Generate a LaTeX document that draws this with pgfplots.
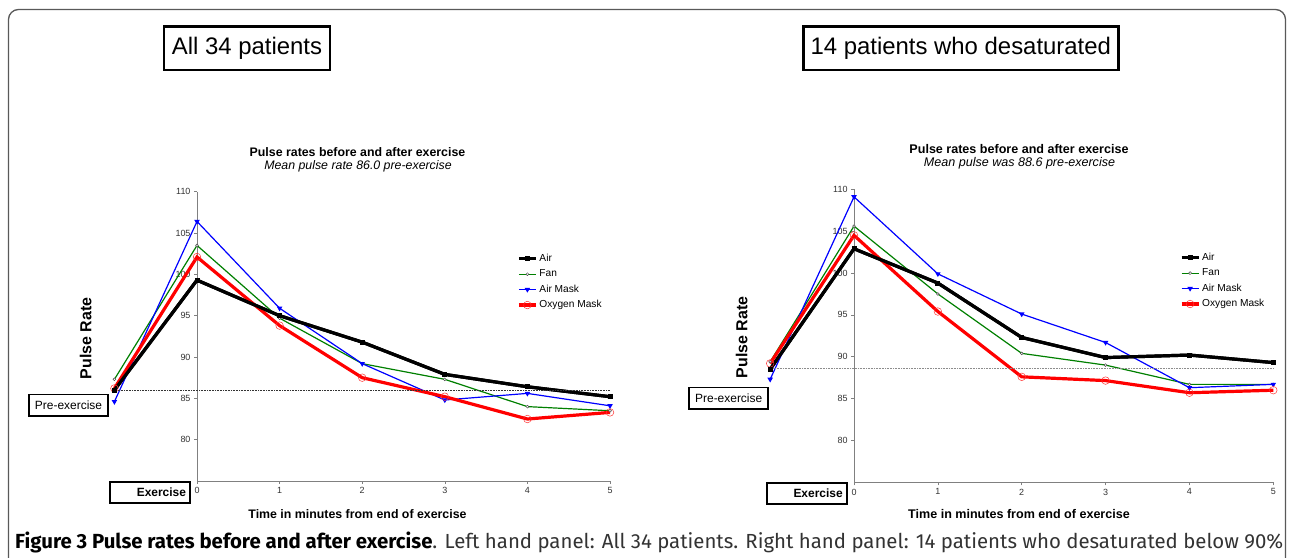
\documentclass[border=0pt]{standalone}
\usepackage{pgfplots}
\usepackage{pgfplotstable}
\pgfplotsset{compat=1.18}
\usepackage{fontspec}
\setmainfont{Liberation Sans}
\newfontfamily\capfont{Fira Sans}
\definecolor{fangreen}{RGB}{0,128,0}
\definecolor{axgray}{RGB}{128,128,128}

\pgfplotstableread{
x    air   fan   mask  oxy
-1   86.0  87.3  84.6  86.2
0    99.3  103.5 106.4 102.1
1    95.0  94.7  95.9  93.8
2    91.8  89.2  89.2  87.5
3    87.9  87.3  84.8  85.2
4    86.4  84.0  85.6  82.5
5    85.2  83.5  84.1  83.3
}\leftdata
\pgfplotstableread{
x    air   fan   mask  oxy
-1   88.5  89.4  87.3  89.2
0    102.9 105.6 109.1 104.5
1    98.8  97.5  99.9  95.4
2    92.3  90.4  95.1  87.6
3    89.9  89.0  91.7  87.15
4    90.2  86.7  86.3  85.7
5    89.3  86.7  86.7  86.0
}\rightdata

\pgfplotsset{
  panel/.style={
    scale only axis,
    xmin=0, xmax=5, ymin=75, ymax=110,
    axis x line*=bottom, axis y line*=left,
    axis line style={axgray, line width=0.9bp, -},
    xtick={0,...,5}, ytick={80,85,...,110},
    tick align=outside, major tick length=3bp,
    tick style={axgray, line width=0.6bp},
    ticklabel style={font=\fontsize{9}{10}\selectfont, text=black!80},
    /pgf/number format/assume math mode=true,
    clip=false,
    legend style={draw=none, fill=none, font=\fontsize{10.2}{11}\selectfont,
      row sep=2.7bp, inner sep=0pt, cells={anchor=west}},
    legend cell align=left,
  },
  airst/.style={black, line width=3.2bp, mark=square*, mark size=0.9bp, mark options={solid}},
  fanst/.style={fangreen, line width=1.2bp, mark=*, mark size=1.4bp, mark options={fill=white, draw=black!70, line width=0.5bp}},
  maskst/.style={blue, line width=1.2bp, mark=triangle*, mark size=2bp, mark options={rotate=180}},
  oxyst/.style={red, line width=3.2bp, mark=o, mark size=3.8bp, mark options={line width=0.5bp, fill=none, draw=red!80}},
}

\begin{document}
\begin{tikzpicture}
\useasboundingbox (0,0) rectangle (1292bp,-558bp);
\clip (0,0) rectangle (1292bp,-558bp);
\fill[white] (0,0) rectangle (1292bp,-558bp);
\draw[black!65, line width=1.3bp, rounded corners=10bp] (8.5bp,-620bp) -- (8.5bp,-9.5bp) -- (1285.5bp,-9.5bp) -- (1285.5bp,-620bp);

% Left panel
\begin{axis}[panel, at={(197bp,-481bp)}, anchor=south west, width=413bp, height=289.3bp,
  legend style={at={(0.775,0.791)}, anchor=north west}]
\addplot[airst] table[x=x,y=air] {\leftdata};
\addlegendentry{Air}
\addplot[fanst] table[x=x,y=fan] {\leftdata};
\addlegendentry{Fan}
\addplot[maskst] table[x=x,y=mask] {\leftdata};
\addlegendentry{Air Mask}
\addplot[oxyst] table[x=x,y=oxy] {\leftdata};
\addlegendentry{Oxygen Mask}
\addplot[airst, forget plot] table[x=x,y=air] {\leftdata};
\addplot[black!80, densely dotted, line width=0.6bp, forget plot] coordinates {(-1,86.0) (5,86.0)};
\end{axis}

% Right panel
\begin{axis}[panel, at={(854bp,-482.3bp)}, anchor=south west, width=419.3bp, height=293bp,
  legend style={at={(0.777,0.789)}, anchor=north west}]
\addplot[airst] table[x=x,y=air] {\rightdata};
\addlegendentry{Air}
\addplot[fanst] table[x=x,y=fan] {\rightdata};
\addlegendentry{Fan}
\addplot[maskst] table[x=x,y=mask] {\rightdata};
\addlegendentry{Air Mask}
\addplot[oxyst] table[x=x,y=oxy] {\rightdata};
\addlegendentry{Oxygen Mask}
\addplot[airst, forget plot] table[x=x,y=air] {\rightdata};
\addplot[black!45, densely dotted, line width=0.6bp, forget plot] coordinates {(-1,88.6) (5,88.6)};
\end{axis}

% Panel title boxes
\node[draw, line width=2.5bp, minimum width=166bp, minimum height=43.3bp, inner sep=0pt,
  font=\fontsize{24}{26}\selectfont] at (247bp,-48.3bp) {All 34 patients};
\node[draw, line width=2.5bp, minimum width=315bp, minimum height=43.3bp, inner sep=0pt,
  font=\fontsize{24}{26}\selectfont] at (960.8bp,-48.3bp) {14 patients who desaturated};

% Chart titles
\node[font=\bfseries\fontsize{12.4}{13}\selectfont] at (357.5bp,-151.7bp) {Pulse rates before and after exercise};
\node[font=\itshape\fontsize{12.4}{13}\selectfont] at (358bp,-166bp) {Mean pulse rate 86.0 pre-exercise};
\node[font=\bfseries\fontsize{12.6}{13}\selectfont] at (1019bp,-149bp) {Pulse rates before and after exercise};
\node[font=\itshape\fontsize{12.6}{13}\selectfont] at (1019.5bp,-163.3bp) {Mean pulse was 88.6 pre-exercise};

% Y labels
\node[rotate=90, font=\bfseries\fontsize{16}{18}\selectfont] at (85.7bp,-338.5bp) {Pulse Rate};
\node[rotate=90, font=\bfseries\fontsize{16}{18}\selectfont] at (741.7bp,-337.5bp) {Pulse Rate};

% X labels
\node[font=\bfseries\fontsize{12.4}{13}\selectfont] at (357.5bp,-514bp) {Time in minutes from end of exercise};
\node[font=\bfseries\fontsize{12.6}{13}\selectfont] at (1019bp,-514bp) {Time in minutes from end of exercise};

% Pre-exercise / Exercise boxes
\node[draw, line width=1.8bp, minimum width=79bp, minimum height=21.5bp, inner sep=0pt,
  font=\fontsize{12}{13}\selectfont, fill=white] at (68.5bp,-405.2bp) {Pre-exercise};
\node[draw, line width=1.8bp, minimum width=79bp, minimum height=21.5bp, inner sep=0pt,
  font=\fontsize{12}{13}\selectfont, fill=white] at (728.7bp,-398.2bp) {Pre-exercise};
\node[draw, line width=1.8bp, minimum width=80bp, minimum height=21bp, inner sep=0pt,
  fill=white, font=\bfseries\fontsize{12}{13}\selectfont, text width=72bp, align=right] at (150bp,-492.5bp) {Exercise};
\node[draw, line width=1.8bp, minimum width=80bp, minimum height=21.5bp, inner sep=0pt,
  fill=white, font=\bfseries\fontsize{12}{13}\selectfont, text width=72bp, align=right] at (806.7bp,-493.5bp) {Exercise};

% Caption
\node[anchor=base west, inner sep=0pt, text=black!80] at (15bp,-548bp)
  {\resizebox{1268bp}{!}{\capfont\fontsize{15}{17}\selectfont\textcolor{black}{\bfseries Figure 3 Pulse rates before and after exercise}. Left hand panel: All 34 patients. Right hand panel: 14 patients who desaturated below 90\%}};
\end{tikzpicture}
\end{document}
